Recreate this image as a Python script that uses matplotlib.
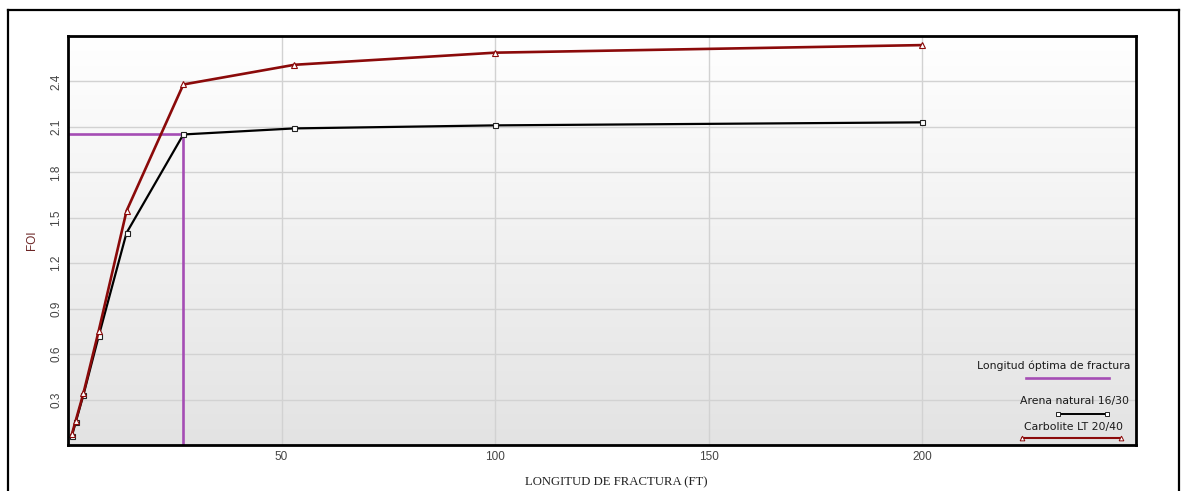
import numpy as np
import matplotlib
matplotlib.use("Agg")
import matplotlib.pyplot as plt
from matplotlib.lines import Line2D

# Fracture length (ft) and folds of increase (FOI) per proppant
longitud = [0.9, 1.8, 3.6, 7.2, 13.7, 27.0, 53.0, 100.0, 200.0]
foi_arena = [0.06, 0.15, 0.33, 0.72, 1.40, 2.05, 2.09, 2.11, 2.13]
foi_carbolite = [0.07, 0.16, 0.34, 0.755, 1.545, 2.38, 2.51, 2.59, 2.64]

# Optimal fracture length marker
long_optima = 27.0
foi_optimo = 2.05

x_ticks = [50, 100, 150, 200]
y_ticks = [0.3, 0.6, 0.9, 1.2, 1.5, 1.8, 2.1, 2.4]

serie_labels = ["Arena natural 16/30", "Carbolite LT 20/40"]
optima_label = "Longitud óptima de fractura"

W, H = 1181, 491
fig = plt.figure(figsize=(W / 100, H / 100), dpi=100)
fig.patch.set_facecolor("white")


def px(x, y):
    return x / W, 1 - y / H


# Outer frame (open at the bottom)
frame_kw = dict(color="black", lw=1.6, transform=fig.transFigure, clip_on=False)
fx0, fx1, fy1 = 7.5 / W, 1178.5 / W, 1 - 9.5 / H
fig.add_artist(Line2D([fx0, fx0], [0, fy1], **frame_kw))
fig.add_artist(Line2D([fx0, fx1], [fy1, fy1], **frame_kw))
fig.add_artist(Line2D([fx1, fx1], [0, fy1], **frame_kw))

left, right, top, bottom = 68 / W, 1136 / W, 1 - 36 / H, 1 - 445 / H
ax = fig.add_axes([left, bottom, right - left, top - bottom])

# Vertical gradient background: white at top, light gray at bottom
grad = np.linspace(1.0, 0.0, 256).reshape(-1, 1)
top_c = np.array([1.0, 1.0, 1.0])
bot_c = np.array([0.89, 0.89, 0.89])
img = grad[..., None] * top_c + (1 - grad[..., None]) * bot_c
ax.imshow(img, extent=[0, 1, 0, 1], transform=ax.transAxes, aspect="auto",
          zorder=0, interpolation="bilinear")

ax.set_xlim(0, 250)
ax.set_ylim(0, 2.7)
ax.set_xticks(x_ticks)
ax.set_yticks(y_ticks)
ax.grid(True, color="#d2d2d2", lw=1.0, zorder=1)
ax.set_axisbelow(False)

tick_font = dict(family="Liberation Sans", size=8.5, color="#444444")
ax.set_xticklabels([str(v) for v in x_ticks], **tick_font)
ax.set_yticklabels([f"{v:.1f}" for v in y_ticks], rotation=90, va="center", **tick_font)
ax.tick_params(axis="both", length=0, pad=4)

for sp in ax.spines.values():
    sp.set_linewidth(2.0)
    sp.set_color("black")
    sp.set_zorder(10)

purple = "#a54db4"
dark_red = "#8b0a0a"

# Optimal length guide lines
ax.plot([0, long_optima], [foi_optimo, foi_optimo], color=purple, lw=1.9,
        zorder=3, solid_capstyle="butt", clip_on=False)
ax.plot([long_optima, long_optima], [0, foi_optimo], color=purple, lw=1.9,
        zorder=3, solid_capstyle="butt", clip_on=False)

ax.plot(longitud, foi_arena, color="black", lw=1.6, marker="s", ms=3.6,
        mfc="white", mec="#222222", mew=0.8, zorder=4)
ax.plot(longitud, foi_carbolite, color=dark_red, lw=1.9, marker="^", ms=4.0,
        mfc="white", mec=dark_red, mew=0.8, zorder=5)

# Axis titles
fig.text(*px(616, 482), "LONGITUD DE FRACTURA (FT)", family="Liberation Serif",
         size=9.2, color="#222222", ha="center", va="center")
fig.text(*px(32, 240), "FOI", family="Liberation Sans", size=8.5,
         color="#6b2424", rotation=90, ha="center", va="center")

# Legend block drawn in figure pixel coordinates
leg_font = dict(family="DejaVu Sans", size=7.8, color="#1a1a1a",
                ha="right", va="center", transform=fig.transFigure)
fig.text(*px(1130, 366), optima_label, **leg_font)
fig.add_artist(Line2D([1026 / W, 1109 / W], [1 - 378 / H] * 2, color=purple,
                      lw=1.9, transform=fig.transFigure))
fig.text(*px(1129, 401), serie_labels[0], **leg_font)
fig.add_artist(Line2D([1058 / W, 1107 / W], [1 - 413.5 / H] * 2, color="black",
                      lw=1.4, marker="s", ms=3.0, mfc="white", mec="#222222",
                      mew=0.7, markevery=[0, 1], transform=fig.transFigure))
fig.text(*px(1123, 427), serie_labels[1], **leg_font)
fig.add_artist(Line2D([1022 / W, 1121 / W], [1 - 437.5 / H] * 2, color=dark_red,
                      lw=1.5, marker="^", ms=3.4, mfc="white", mec=dark_red,
                      mew=0.7, markevery=[0, 1], transform=fig.transFigure))

fig.savefig("out.png", dpi=100, facecolor="white")
